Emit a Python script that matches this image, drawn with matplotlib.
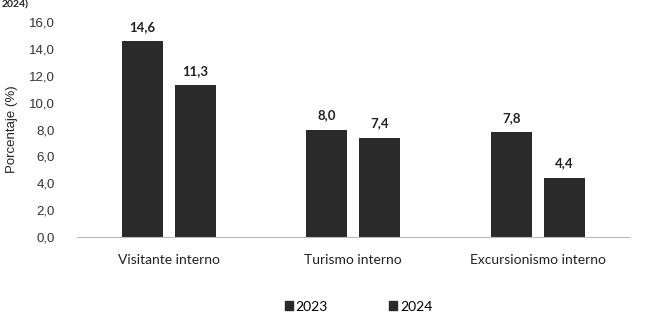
import numpy as np
import matplotlib
matplotlib.use('Agg')
import matplotlib.pyplot as plt
from matplotlib.patches import Patch

# Data
categories = ['Visitante interno', 'Turismo interno', 'Excursionismo interno']
years = ['2023', '2024']
values_2023 = [14.6, 8.0, 7.8]
values_2024 = [11.3, 7.4, 4.4]
y_ticks = [0, 2, 4, 6, 8, 10, 12, 14, 16]

bar_color = '#2a2a2a'
label_font = 'Lato'
tick_font = 'Liberation Sans'

def fmt(v):
    return f'{v:.1f}'.replace('.', ',')

fig = plt.figure(figsize=(6.46, 3.16), dpi=100)
ax = fig.add_axes([0.119, 0.25, 0.856, 0.68])

x = np.arange(len(categories))
width = 0.222
offset = 0.144

bars1 = ax.bar(x - offset, values_2023, width, color=bar_color)
bars2 = ax.bar(x + offset, values_2024, width, color=bar_color)

# value labels
for bars, vals in [(bars1, values_2023), (bars2, values_2024)]:
    for b, v in zip(bars, vals):
        ax.annotate(fmt(v), (b.get_x() + b.get_width() / 2, v),
                    xytext=(0, 6), textcoords='offset points',
                    ha='center', va='bottom', fontsize=9.5,
                    fontweight='bold', family=label_font, color='#222222')

ax.set_xlim(-0.5, 2.5)
ax.set_ylim(0, 16)
ax.set_yticks(y_ticks)
ax.set_yticklabels([fmt(t) for t in y_ticks], family=tick_font, fontsize=9.5, color='#333333')
ax.set_xticks(x)
ax.set_xticklabels(categories, family=label_font, fontsize=10, color='#222222')
ax.tick_params(axis='both', length=0)
ax.tick_params(axis='x', pad=12)
ax.tick_params(axis='y', pad=16)

for s in ['top', 'right', 'left']:
    ax.spines[s].set_visible(False)
ax.spines['bottom'].set_color('#bbbbbb')
ax.spines['bottom'].set_linestyle((0, (1, 1)))
ax.spines['bottom'].set_linewidth(0.8)

ax.set_ylabel('Porcentaje (%)', family=tick_font, fontsize=9.5, color='#222222', labelpad=8)

# legend
handles = [Patch(color=bar_color, label=y) for y in years]
fig.legend(handles=handles, loc='center', bbox_to_anchor=(0.555, 0.03), ncol=2,
           frameon=False, handlelength=0.6, handleheight=0.6, handletextpad=0.2,
           columnspacing=4.4, prop={'family': label_font, 'size': 10})

# title remnant at the top-left
fig.text(0.002, 0.998, '2024)', fontsize=7.5, fontweight='bold', family=label_font,
         ha='left', va='top', color='#222222')

fig.savefig('out.png', dpi=100)
